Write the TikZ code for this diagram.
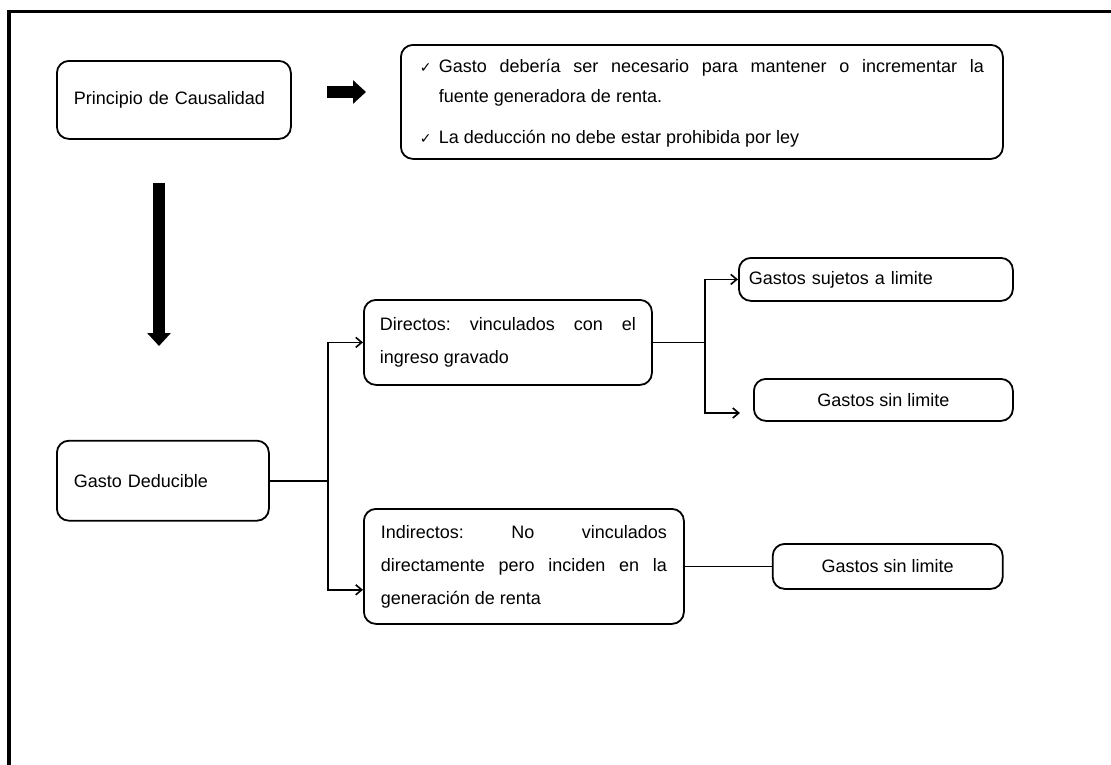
\documentclass[tikz,border=0pt]{standalone}
\usepackage{fontspec}
\setmainfont{Liberation Sans}
\newfontfamily\marcafont{DejaVu Sans}
\usetikzlibrary{arrows.meta,positioning}

\newcommand{\marca}{{\marcafont\fontsize{14}{14}\selectfont ✓}}
\frenchspacing

\tikzset{
	caja/.style={draw=black, line width=1.8pt, rounded corners=12pt, inner ysep=0pt,
		font=\fontsize{18}{33}\selectfont, anchor=north west},
	flecha/.style={line width=1.6pt, -{Straight Barb[length=6pt,width=10pt]}},
	linea/.style={line width=1.6pt},
	gorda/.style={line width=12pt, -{Triangle[length=13pt,width=23pt]}}
}

\begin{document}
\begin{tikzpicture}[x=1pt,y=-1pt]
	\useasboundingbox (0,0) rectangle (1111,764);
	\draw[line width=3.5pt] (1200,11.5) -| (9,820);

	\node[caja, inner xsep=17pt, text width=200pt, minimum height=78pt, align=left] (pc) at (56,60) {Principio de Causalidad};
	\node[caja, inner xsep=0pt, minimum width=602pt, minimum height=114pt, font=\fontsize{18}{30}\selectfont] (req) at (400,44)
		{\begin{tabular}{@{}p{19pt}@{}p{545pt}@{}}
			\marca & Gasto debería ser necesario para mantener o incrementar la\linebreak fuente generadora de renta.\\[11pt]
			\marca & La deducción no debe estar prohibida por ley
		\end{tabular}};
	\node[caja, below=300pt of pc.south west, anchor=north west, inner xsep=17pt, text width=178pt, minimum height=80pt, align=left] (gd) {Gasto Deducible};
	\node[caja, inner xsep=16pt, text width=256pt, minimum height=85pt, align=justify] (dir) at (363,299) {Directos: vinculados con el\linebreak ingreso gravado};
	\node[caja, inner xsep=17pt, text width=286pt, minimum height=115pt, align=justify] (ind) at (363,508) {Indirectos: No vinculados\linebreak directamente pero inciden en la\linebreak generación de renta};
	\node[caja, inner xsep=10pt, text width=254pt, minimum height=43pt, align=left] (suj) at (738,257) {Gastos sujetos a limite};
	\node[caja, inner xsep=0pt, minimum width=259pt, minimum height=42pt] (sl1) at (753,378) {Gastos sin limite};
	\node[caja, right=87pt of ind, inner xsep=0pt, minimum width=230pt, minimum height=45pt] (sl2) {Gastos sin limite};

	\coordinate (g1) at (327,92);
	\coordinate (g2) at (366,92);
	\coordinate (g3) at (159,183);
	\coordinate (g4) at (159,346);
	\coordinate (b1) at (328,0);
	\coordinate (b2) at (705,0);
	\coordinate (f1) at (740,413);

	\draw[gorda] (g1) -- (g2);
	\draw[gorda] (g3) -- (g4);

	\draw[linea] (gd.east) -- (gd.east -| b1);
	\draw[flecha] (gd.east -| b1) |- (dir.west);
	\draw[flecha] (gd.east -| b1) |- ([yshift=35pt]ind.south west);
	\draw[linea] (dir.east) -- (dir.east -| b2);
	\draw[flecha] (dir.east -| b2) |- (suj.west);
	\draw[flecha] (dir.east -| b2) |- (f1);
	\draw[linea] (ind.east) -- (sl2.west);
\end{tikzpicture}
\end{document}
